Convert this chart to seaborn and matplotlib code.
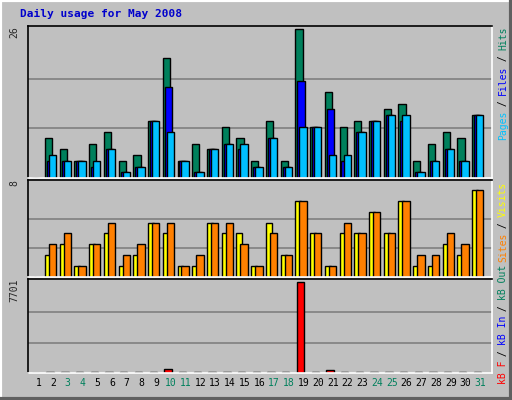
import matplotlib
matplotlib.use("Agg")
import matplotlib.pyplot as plt
import seaborn as sns
import numpy as np

sns.set_style("white")
plt.rcParams['font.family'] = ['DejaVu Sans Mono']

days = list(range(1, 32))
hits  = [0,7,5,3,6,8,3,4,10,21,3,6,5,9,7,3,10,3,26,9,15,9,10,10,12,13,3,6,8,7,11]
files = [0,3,3,3,2,5,1,2,10,16,3,1,5,6,5,2,7,2,17,9,12,3,8,10,11,10,1,3,5,3,11]
pages = [0,4,3,3,3,5,1,2,10,8,3,1,5,6,6,2,7,2,9,9,4,4,8,10,11,11,1,3,5,3,11]
visits = [0,2,3,1,3,4,1,2,5,4,1,1,5,4,4,1,5,2,7,4,1,4,4,6,4,7,1,1,3,2,8]
sites  = [0,3,4,1,3,5,2,3,5,5,1,2,5,5,3,1,4,2,7,4,1,5,4,6,4,7,2,2,4,3,8]
kbytes = [0,120,120,120,120,120,120,120,120,350,120,120,120,120,120,120,120,120,7701,120,250,120,120,120,120,120,120,120,120,120,120]
weekend = [3,4,10,11,17,18,24,25,31]

W, H = 512, 400
fig = plt.figure(figsize=(W/100, H/100), dpi=100)
fig.patch.set_facecolor('#C0C0C0')
fig.add_artist(plt.Rectangle((0, 0), 1, 1, transform=fig.transFigure, fill=False, ec='white', lw=3))
fig.add_artist(plt.Line2D([0, 1], [0.002, 0.002], transform=fig.transFigure, color='#606060', lw=3))
fig.add_artist(plt.Line2D([0.998, 0.998], [0, 1], transform=fig.transFigure, color='#606060', lw=3))

def axes(y0, y1):
    x0, x1 = 28, 492
    ax = fig.add_axes([x0/W, 1-y1/H, (x1-x0)/W, (y1-y0)/H])
    ax.set_facecolor('#C0C0C0')
    for s in ['left', 'top']:
        ax.spines[s].set_color('black'); ax.spines[s].set_linewidth(1.2)
    for s in ['right', 'bottom']:
        ax.spines[s].set_color('white'); ax.spines[s].set_linewidth(1.2)
    ax.set_xlim(0.3, 31.8)
    ax.set_xticks([]); ax.set_yticks([])
    return ax

kw = dict(edgecolor='black', linewidth=1, align='edge')
d = np.array(days)

ax1 = axes(26, 178)
ax1.set_ylim(0, 26.6)
for g in [26/3, 52/3]:
    ax1.axhline(g, color='#808080', lw=1.2, zorder=0)
ax1.bar(d-0.55, hits, width=0.49, color='#00805C', **kw)
ax1.bar(d-0.42, files, width=0.5, color='#0000FF', **kw)
ax1.bar(d-0.28, pages, width=0.5, color='#00C0FF', **kw)

ax2 = axes(180, 277)
ax2.set_ylim(0, 8.9)
for g in [8/3, 16/3]:
    ax2.axhline(g, color='#808080', lw=1.2, zorder=0)
ax2.bar(d-0.55, visits, width=0.4, color='#FFFF00', **kw)
ax2.bar(d-0.28, sites, width=0.5, color='#FF8000', **kw)

ax3 = axes(279, 373)
ax3.set_ylim(0, 7950)
for g in [7701/3, 2*7701/3]:
    ax3.axhline(g, color='#808080', lw=1.2, zorder=0)
ax3.bar(d-0.45, kbytes, width=0.5, color='#FF0000', **kw)

fs = 7
fig.text(20/W, 1-14/H, 'Daily usage for May 2008', color='#0000CC', fontsize=8, fontweight='bold', va='center')
fig.text(14/W, 1-26/H, '26', rotation=90, fontsize=fs, va='top', ha='center')
fig.text(14/W, 1-180/H, '8', rotation=90, fontsize=fs, va='top', ha='center')
fig.text(14/W, 1-279/H, '7701', rotation=90, fontsize=fs, va='top', ha='center')

for i in days:
    ax3.text(i, -0.05, str(i), transform=ax3.get_xaxis_transform(), ha='center', va='top',
             fontsize=fs, color='#00805C' if i in weekend else 'black')

CH = 5.6
def vlabel(parts, ybottom):
    y = ybottom
    for txt, col in parts:
        fig.text(503/W, 1-y/H, txt, rotation=90, color=col, fontsize=fs, va='bottom', ha='center')
        y -= len(txt) * CH

vlabel([('Pages', '#00C0FF'), (' / ', 'black'), ('Files', '#0000FF'), (' / ', 'black'), ('Hits', '#00805C')], 140)
vlabel([('Sites', '#FF8000'), (' / ', 'black'), ('Visits', '#FFFF00')], 262)
vlabel([('kB F', '#FF0000'), (' / ', 'black'), ('kB In', '#0000FF'), (' / ', 'black'), ('kB Out', '#00805C')], 384)

fig.savefig('out.png', dpi=100, facecolor=fig.get_facecolor())
